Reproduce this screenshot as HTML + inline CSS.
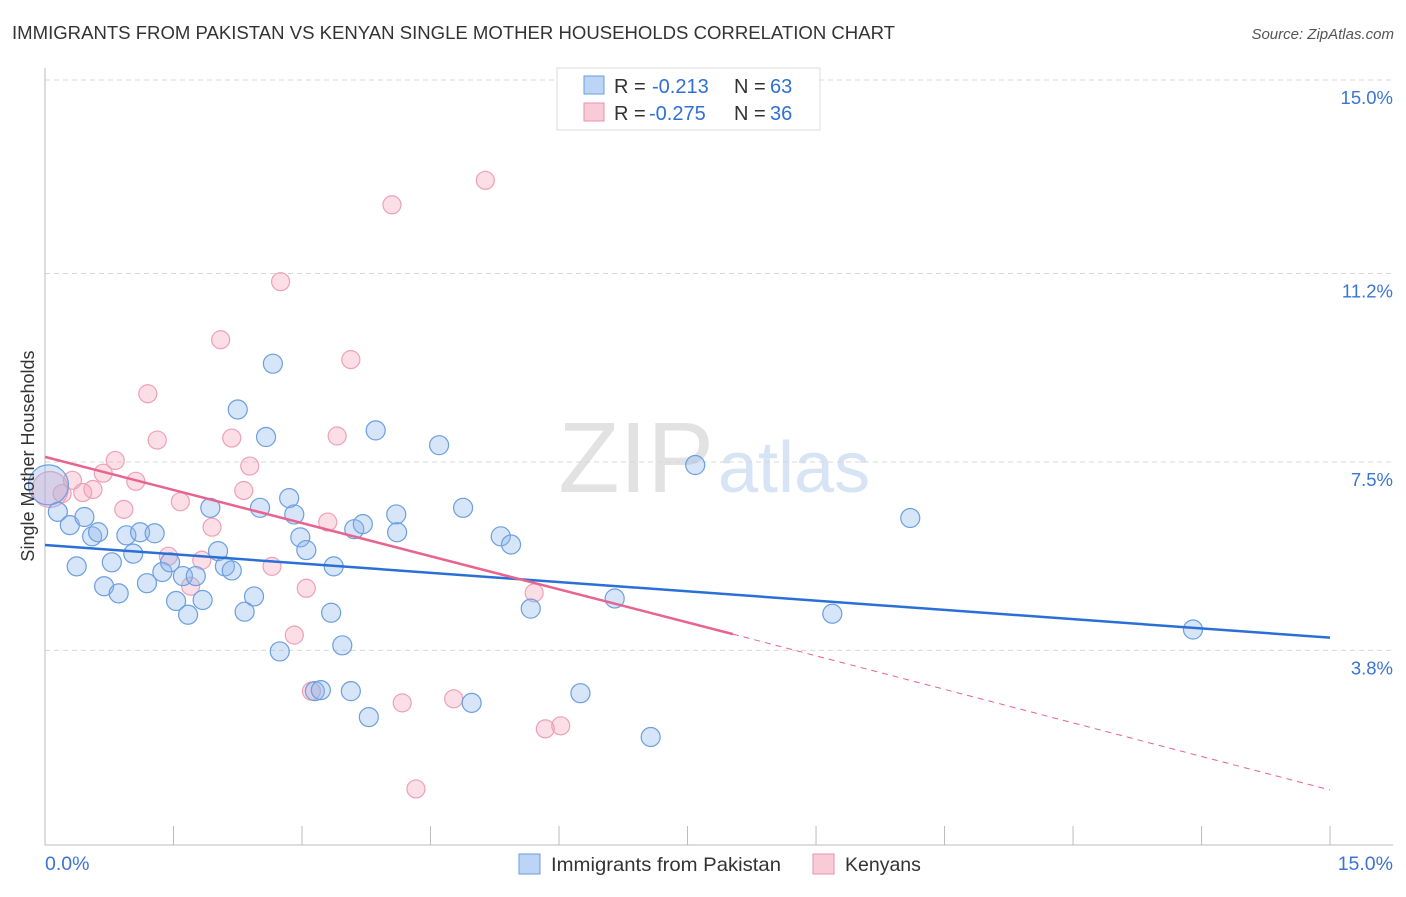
<!DOCTYPE html>
<html><head><meta charset="utf-8"><style>
body{margin:0;background:#fff;font-family:"Liberation Sans",sans-serif;}
svg text{font-family:"Liberation Sans",sans-serif;}
</style></head><body>
<svg id="c" width="1406" height="892">
<text x="12" y="39" font-size="18" fill="#333" textLength="883" lengthAdjust="spacingAndGlyphs">IMMIGRANTS FROM PAKISTAN VS KENYAN SINGLE MOTHER HOUSEHOLDS CORRELATION CHART</text>
<text x="1394" y="39" font-size="15" fill="#555" text-anchor="end" font-style="italic">Source: ZipAtlas.com</text>
<text x="714" y="492" font-size="100" fill="#e2e2e2" text-anchor="end" font-family="Liberation Serif">ZIP</text>
<text x="718" y="492" font-size="72" fill="#d6e4f5">atlas</text>
<g id="grid"></g><g id="axes"></g><g id="marks"></g>
<text transform="translate(34,456) rotate(-90)" font-size="18" fill="#333" text-anchor="middle">Single Mother Households</text>
<g>
<rect x="557" y="68" width="263" height="62" fill="#fff" stroke="#ddd"/>
<rect x="584" y="76" width="20" height="18" fill="#bcd4f5" stroke="#6a9ee0"/>
<rect x="584" y="103" width="20" height="18" fill="#f9cad8" stroke="#e990ab"/>
<text x="614" y="93" font-size="20" fill="#333">R =</text>
<text x="652" y="93" font-size="20" fill="#2f6fd6">-0.213</text>
<text x="734" y="93" font-size="20" fill="#333">N =</text>
<text x="770" y="93" font-size="20" fill="#2f6fd6">63</text>
<text x="614" y="120" font-size="20" fill="#333">R =</text>
<text x="649" y="120" font-size="20" fill="#2f6fd6">-0.275</text>
<text x="734" y="120" font-size="20" fill="#333">N =</text>
<text x="770" y="120" font-size="20" fill="#2f6fd6">36</text>
</g>
<g>
<rect x="519" y="854" width="21" height="20" fill="#bcd4f5" stroke="#6a9ee0"/>
<text x="551" y="871" font-size="19.5" fill="#333" textLength="230" lengthAdjust="spacingAndGlyphs">Immigrants from Pakistan</text>
<rect x="813" y="854" width="21" height="20" fill="#f9cad8" stroke="#e990ab"/>
<text x="845" y="871" font-size="19.5" fill="#333">Kenyans</text>
</g>
</svg>
<script>
const yTicks=[15.0,11.2,7.5,3.8];
const yTickLabels=["15.0%","11.2%","7.5%","3.8%"];
const xTickLabels=["0.0%","15.0%"];
const blueX=[0.04,0.15,0.29,0.46,0.55,0.62,0.37,0.69,0.78,0.86,0.95,1.03,1.11,1.19,1.28,1.37,1.46,1.53,1.61,1.67,1.76,1.84,1.93,2.02,2.10,2.18,2.25,2.33,2.44,2.51,2.58,2.66,2.74,2.85,2.91,2.98,3.05,3.15,3.22,3.34,3.37,3.47,3.57,3.61,3.71,3.78,3.86,4.10,4.11,4.60,4.88,4.98,5.32,5.44,5.67,6.25,6.65,7.07,7.59,9.19,10.10,13.40];
const blueY=[7.05,6.52,6.26,6.42,6.04,6.12,5.45,5.06,5.53,4.92,6.06,5.70,6.12,5.12,6.10,5.34,5.53,4.77,5.26,4.50,5.26,4.79,6.60,5.75,5.45,5.37,8.53,4.56,4.86,6.60,7.99,9.43,3.78,6.79,6.47,6.02,5.77,3.00,3.02,4.54,5.45,3.90,3.00,6.18,6.28,2.49,8.12,6.47,6.12,7.83,6.60,2.77,6.04,5.88,4.62,2.96,4.82,2.10,7.44,4.52,6.40,4.21];
const pinkX=[0.06,0.20,0.32,0.44,0.56,0.68,0.82,0.92,1.06,1.20,1.31,1.44,1.58,1.70,1.83,1.95,2.05,2.18,2.32,2.39,2.65,2.75,2.91,3.05,3.11,3.30,3.41,3.57,4.05,4.17,4.77,5.14,5.71,5.84,6.02,4.33];
const pinkY=[6.96,6.88,7.14,6.90,6.96,7.28,7.53,6.57,7.12,8.84,7.93,5.65,6.72,5.06,5.57,6.22,9.90,7.97,6.94,7.42,5.45,11.04,4.10,5.02,3.00,6.32,8.01,9.51,12.55,2.77,2.85,13.03,4.93,2.26,2.32,1.08];
const blueSize=[2,1,1,1,1,1,1,1,1,1,1,1,1,1,1,1,1,1,1,1,1,1,1,1,1,1,1,1,1,1,1,1,1,1,1,1,1,1,1,1,1,1,1,1,1,1,1,1,1,1,1,1,1,1,1,1,1,1,1,1,1,1];
const blueTrend=[5.87,4.05];
const pinkTrend=[7.60,4.12,1.06];
const pinkSolidEnd=8.03;
const X=v=>45+v*85.67, Y=v=>80+(15-v)*50.93;
const NS="http://www.w3.org/2000/svg";
function mk(p,t,a){const e=document.createElementNS(NS,t);for(const k in a)e.setAttribute(k,a[k]);p.appendChild(e);return e;}
const grid=document.getElementById('grid'),axes=document.getElementById('axes'),marks=document.getElementById('marks');
yTicks.forEach((v,i)=>{
 const l=mk(grid,'line',{x1:45,x2:1393,y1:Y(v),y2:Y(v),stroke:'#d8d8d8','stroke-dasharray':'5,4'});
 
 
 const t=mk(grid,'text',{x:1393,y:Y(v)+24,'font-size':18.5,fill:'#3a74d4','text-anchor':'end'});
 t.textContent=yTickLabels[i];
 
 
});
const ax=mk(axes,'line',{x1:45,x2:45,y1:68,y2:845,stroke:'#bbb'});


const bx=mk(axes,'line',{x1:45,x2:1393,y1:845,y2:845,stroke:'#bbb'});


for(let i=0;i<=10;i++){const t=mk(axes,'line',{x1:X(i*1.5),x2:X(i*1.5),y1:826,y2:845,stroke:'#bbb'});
 
 }
[[0,'start',45],[15,'end',1393]].forEach((d,i)=>{const t=mk(axes,'text',{x:d[2],y:870,'font-size':19.5,fill:'#3a74d4','text-anchor':d[1]});t.textContent=xTickLabels[i];
 
 });
pinkX.forEach((x,i)=>{const c=mk(marks,'circle',{cx:X(x),cy:Y(pinkY[i]),r:i==0?18:9,fill:'rgba(245,160,185,0.35)',stroke:'#eca1b8','stroke-width':1.2});
 
 });
blueX.forEach((x,i)=>{const c=mk(marks,'circle',{cx:X(x),cy:Y(blueY[i]),r:blueSize[i]==2?20:9.5,fill:'rgba(140,180,235,0.35)',stroke:'#6b9fe0','stroke-width':1.2});
 
 });
const bl=mk(marks,'line',{x1:X(0),y1:Y(blueTrend[0]),x2:X(15),y2:Y(blueTrend[1]),stroke:'#2a6fd6','stroke-width':2.5});


const pl=mk(marks,'line',{x1:X(0),y1:Y(pinkTrend[0]),x2:X(pinkSolidEnd),y2:Y(pinkTrend[1]),stroke:'#e8638f','stroke-width':2.5});


const pd=mk(marks,'line',{x1:X(pinkSolidEnd),y1:Y(pinkTrend[1]),x2:X(15),y2:Y(pinkTrend[2]),stroke:'#e8638f','stroke-width':1,'stroke-dasharray':'6,5'});


</script>
</body></html>
